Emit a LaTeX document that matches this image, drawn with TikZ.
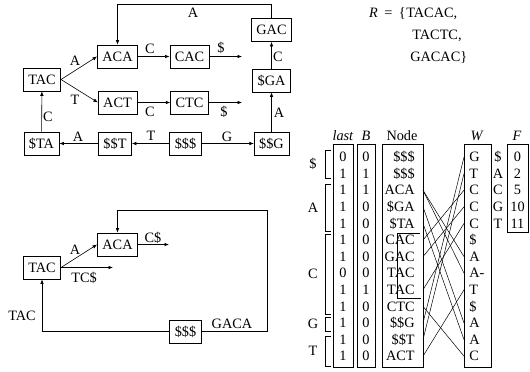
\documentclass[tikz,border=0pt]{standalone}
\usepackage{fontspec}
\setmainfont{Liberation Serif}
\usetikzlibrary{arrows.meta}
\begin{document}
\begin{tikzpicture}[x=1pt,y=-1pt,
  font=\fontsize{14.3}{16}\selectfont,
  line width=0.6pt,
  >={Latex[length=4.5pt,width=3.5pt]},
  box/.style={draw, minimum height=23pt, inner xsep=5pt, inner ysep=0pt},
  lbl/.style={inner sep=0pt},
  cell/.style={inner sep=0pt},
  link/.style={line width=0.5pt}]
\useasboundingbox (0,0) rectangle (530,372);

% ---------- top graph ----------
\node[box] (tac) at (42,79.5) {TAC};
\node[box] (aca) at (117.5,56.5) {ACA};
\node[box] (cac) at (189.5,56.5) {CAC};
\node[box] (act) at (117.5,102.5) {ACT};
\node[box] (ctc) at (189.5,102.5) {CTC};
\node[box] (gac) at (271.5,30) {GAC};
\node[box] (sga) at (271.5,80.5) {\$GA};
\node[box] (sta) at (41.5,143.5) {\$TA};
\node[box] (sst) at (115,143.5) {\$\$T};
\node[box] (sss) at (185.5,143.5) {\$\$\$};
\node[box] (ssg) at (271.5,143.5) {\$\$G};
\coordinate (e1) at (242,56.5);
\coordinate (e2) at (242,102.5);

\draw[->] (tac.east) -- (aca.west);
\draw[->] (tac.east) -- (act.west);
\draw[->] (aca) -- (cac);
\draw[->] (cac) -- (e1);
\draw[->] (act) -- (ctc);
\draw[->] (ctc) -- (e2);
\draw[->] (sss) -- (sst);
\draw[->] (sst) -- (sta);
\draw[->] (sta) -- (tac);
\draw[->] (sss) -- (ssg);
\draw[->] (ssg) -- (sga);
\draw[->] (sga) -- (gac);
\draw[->] (gac.north) -- ++(0,-14) -| (aca.north);

\node[lbl] at (75,61) {A};
\node[lbl] at (75,100) {T};
\node[lbl] at (150,49) {C};
\node[lbl] at (221,48) {\$};
\node[lbl] at (150,112) {C};
\node[lbl] at (224,112) {\$};
\node[lbl] at (151,136) {T};
\node[lbl] at (78,137) {A};
\node[lbl] at (48,117) {C};
\node[lbl] at (227,137) {G};
\node[lbl] at (279,113) {A};
\node[lbl] at (278,57) {C};
\node[lbl] at (193,13) {A};

% ---------- R ----------
\node[anchor=base west, inner sep=0pt] (r1) at (406,17.5) {TACAC,};
\node[anchor=base east, inner sep=0pt] (r0) at (r1.base west) {\textit{R}\hspace{0.45em}=\hspace{0.45em}\{};
\node[anchor=base west, inner sep=0pt] (r2) at (412,39.5) {TACTC,};
\node[anchor=base west, inner sep=0pt] (r3) at (410,61.5) {GACAC\}};

% ---------- bottom graph ----------
\node[box] (aca2) at (117.5,244.5) {ACA};
\node[box] (tac2) at (42,267.5) {TAC};
\node[box] (sss2) at (185.5,331.5) {\$\$\$};
\coordinate (e3) at (169,244.5);
\coordinate (e4) at (113,267.5);
\coordinate (c1) at (267,331.5);
\coordinate (c2) at (267,210);
\draw[->] (tac2.east) -- (aca2.west);
\draw[->] (aca2) -- (e3);
\draw[->] (tac2) -- (e4);
\draw[->] (sss2.east) -- (c1) -- (c2) -| (aca2.north);
\draw[->] (sss2.west) -| (tac2.south);
\node[lbl] at (75,250) {A};
\node[lbl] at (153,238) {C\$};
\node[lbl] at (84,278) {TC\$};
\node[lbl] at (232,324) {GACA};
\node[lbl] at (22,316) {TAC};

% ---------- table ----------
\draw (333,144) rectangle (353,367);
\draw (357,144) rectangle (375,367);
\draw (382,144) rectangle (423,367);
\draw (464,144) rectangle (491,367);
\draw (507,144) rectangle (528,232);
\node[lbl] at (343,136) {\textit{last}};
\node[lbl] at (366,136) {\textit{B}};
\node[lbl] at (402,136) {Node};
\node[lbl] at (477,136) {\textit{W}};
\node[lbl] at (517,136) {\textit{F}};

\foreach \l/\b/\n/\w [count=\i from 0] in {
  0/0/\$\$\$/G, 1/1/\$\$\$/T, 1/1/ACA/C, 1/0/\$GA/C, 1/0/\$TA/C,
  1/0/CAC/\$, 1/0/GAC/A, 0/0/TAC/A-, 1/1/TAC/T, 1/0/CTC/\$,
  1/0/\$\$G/A, 1/0/\$\$T/A, 1/0/ACT/C}{
  \pgfmathsetmacro\yy{157+16.6*\i}
  \node[cell] (la\i) at (343,\yy) {\l};
  \node[cell] (bb\i) at (366,\yy) {\b};
  \node[cell, anchor=east] (nd\i) at (415,\yy) {\n};
  \node[cell, anchor=west] (ww\i) at (469,\yy) {\w};
  \coordinate (nr\i) at (423,\yy);
  \coordinate (wl\i) at (464,\yy);
}
\foreach \c/\f [count=\i from 0] in {\$/0, A/2, C/5, G/10, T/11}{
  \pgfmathsetmacro\yy{157+16.6*\i}
  \node[cell] (fc\i) at (498,\yy) {\c};
  \node[cell] (fv\i) at (517.5,\yy) {\f};
}

% brackets
\draw (331,150) -- (325,150) -- (325,178) -- (331,178);
\draw (331,184) -- (325,184) -- (325,231) -- (331,231);
\draw (331,234) -- (325,234) -- (325,314) -- (331,314);
\draw (331,317) -- (325,317) -- (325,331) -- (331,331);
\draw (331,336) -- (325,336) -- (325,366) -- (331,366);
\node[lbl] at (313,164) {\$};
\node[lbl] at (313,207.5) {A};
\node[lbl] at (313,274) {C};
\node[lbl] at (313,324) {G};
\node[lbl] at (313,351) {T};

% AC sub-box
\draw (420,233) -- (397,233) -- (397,298) -- (421,298);

% links
\foreach \a/\b in {0/10, 1/11, 2/5, 3/6, 4/8, 6/2, 7/2, 8/12, 10/3, 11/4, 12/9}{
  \draw[link] (wl\a) -- (nr\b);
}
\end{tikzpicture}
\end{document}
